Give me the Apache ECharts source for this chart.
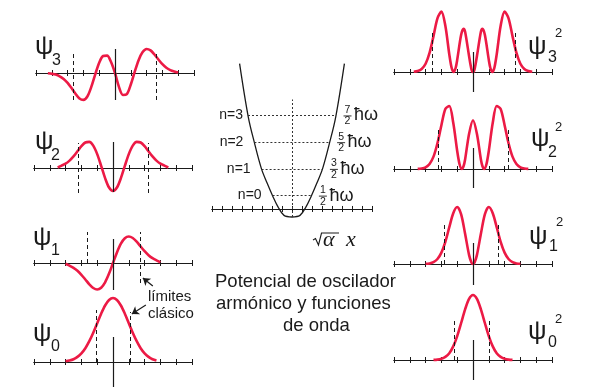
<!DOCTYPE html>
<html>
<head>
<meta charset="utf-8">
<script src="https://cdn.jsdelivr.net/npm/echarts@6/dist/echarts.min.js"></script>
<style>
  html, body { margin: 0; background: #fff; }
  #chart { width: 601px; height: 392px; }
</style>
</head>
<body>
<div id="chart"></div>
<script>
// wave functions psi_n(xi) (vertical unit ~ 1 px)
const psi3X = [-4.25,-4,-3.75,-3.5,-3.25,-3,-2.75,-2.5,-2.25,-2,-1.75,-1.5,-1.25,-1,-0.75,-0.5,-0.25,0,0.25,0.5,0.75,1,1.25,1.5,1.75,2,2.25,2.5,2.75,3,3.25,3.5,3.75,4];
const psi3Y = [-0.3,-0.8,-1.6,-3.3,-6,-9.9,-15.1,-20.7,-25.4,-26.9,-23.5,-13.9,-1.3,10.3,17,17.4,11,0,-13.9,-22,-21.2,-11.5,1.3,13.1,20.9,24,22.6,18.5,13.5,8.8,5.3,2.9,1.5,0.5];
const psi2X = [-3.5,-3.25,-3,-2.75,-2.5,-2.25,-2,-1.75,-1.5,-1.25,-1,-0.75,-0.5,-0.25,0,0.25,0.5,0.75,1,1.25,1.5,1.75,2,2.25,2.5,2.75,3,3.25,3.5];
const psi2Y = [0.5,2.4,4.3,7.4,11.6,16.7,21.8,25.5,26.1,22.4,13.9,2.2,-10.1,-19.5,-23,-19.5,-10.1,2.2,13.9,22.4,26.1,25.5,21.8,16.7,11.6,7.4,4.3,2.4,0.5];
const psi1X = [-3,-2.75,-2.5,-2.25,-2,-1.75,-1.5,-1.25,-1,-0.75,-0.5,-0.25,0,0.25,0.5,0.75,1,1.25,1.5,1.75,2,2.25,2.5,2.75,3];
const psi1Y = [-0.8,-2.7,-4.8,-7.8,-11.8,-16.5,-21.3,-25,-26.5,-24.7,-19.3,-10.6,0,10.6,19.3,24.7,26.5,25,21.3,16.5,11.8,7.8,4.8,2.7,0.8];
const psi0X = [-3,-2.75,-2.5,-2.25,-2,-1.75,-1.5,-1.25,-1,-0.75,-0.5,-0.25,0,0.25,0.5,0.75,1,1.25,1.5,1.75,2,2.25,2.5,2.75];
const psi0Y = [0.7,1.5,2.8,5.1,8.7,13.8,20.8,29.3,38.8,48.3,56.5,62,64,62,56.5,48.3,38.8,29.3,20.8,13.8,8.7,5.1,2.8,1.5];

// probability densities psi_n^2
const prob3X = [-3.75,-3.5,-3.25,-3,-2.75,-2.5,-2.25,-2,-1.75,-1.5,-1.35,-1.22,-1.1,-1,-0.75,-0.6,-0.5,-0.25,-0.1,0,0.1,0.25,0.5,0.6,0.75,1,1.1,1.22,1.35,1.5,1.75,2,2.25,2.5,2.75,3,3.25,3.5,3.75];
const prob3Y = [0.2,0.9,3,8.2,19.1,35.9,53.7,60.4,46.2,17.6,4,0,4,12.1,37.2,43.1,40.2,16,2.9,0,2.9,16,40.2,43.1,37.2,12.1,4,0,4,17.6,46.2,60.4,53.7,35.9,19.1,8.2,3,0.9,0.2];
const prob2X = [-3.5,-3.25,-3,-2.75,-2.5,-2.25,-2,-1.75,-1.5,-1.25,-1,-0.85,-0.71,-0.6,-0.5,-0.25,0,0.25,0.5,0.6,0.71,0.85,1,1.25,1.5,1.75,2,2.25,2.5,2.75,3,3.25,3.5];
const prob2Y = [0.1,0.5,1.7,5.1,12.4,25.8,43.8,60,63,46.2,18,4.7,0,2.7,9.5,35.1,48.8,35.1,9.5,2.7,0,4.7,18,46.2,63,60,43.8,25.8,12.4,5.1,1.7,0.5,0.1];
const prob1X = [-3,-2.75,-2.5,-2.25,-2,-1.75,-1.5,-1.25,-1,-0.75,-0.5,-0.25,-0.1,0,0.1,0.25,0.5,0.75,1,1.25,1.5,1.75,2,2.25,2.5,2.75,3];
const prob1Y = [0.2,0.6,1.9,5,11.4,22.2,36.8,50.8,57,49.7,30.2,9.1,1.5,0,1.5,9.1,30.2,49.7,57,50.8,36.8,22.2,11.4,5,1.9,0.6,0.2];
const prob0X = [-2.5,-2.25,-2,-1.75,-1.5,-1.25,-1,-0.75,-0.5,-0.25,0,0.25,0.5,0.75,1,1.25,1.5,1.75,2,2.25,2.5];
const prob0Y = [0.1,0.4,1.2,3.1,6.8,13.6,23.9,37,50.6,61.1,65,61.1,50.6,37,23.9,13.6,6.8,3.1,1.2,0.4,0.1];

// classical turning points (left, right) as drawn, n = 0..3
const limitsPsi = [[-1.07,1.07],[-1.64,1.7],[-2.2,2.26],[-2.66,2.6]];
const limitsProb = [[-1.2,1.0],[-1.8,1.6],[-2.2,2.2],[-2.6,2.7]];

// potential well V(xi) in units of hbar*omega, and the energy levels
const wellX = [-2.62,-2.19,-1.88,-1.53,-1.25,-0.95,-0.7,-0.4,0,0.4,0.7,0.95,1.25,1.53,1.88,2.19,2.62];
const wellE = [5.44,3.46,2.48,1.51,0.98,0.46,0.08,-0.24,-0.3,-0.24,0.08,0.46,0.98,1.51,2.48,3.46,5.44];
const levelE = [0.5,1.5,2.5,3.5];
const levelHalf = [0.97,1.52,1.88,2.2];
const levelNames = ['n=0','n=1','n=2','n=3'];
const levelNum = ['1','3','5','7'];

const RED = '#ec1a45';
const INK = '#1a1a1a';
const SANS = '"Liberation Sans", Arial, Helvetica, sans-serif';
const SERIF = '"Liberation Serif", "Times New Roman", serif';

const zip = (xs, ys) => xs.map((x, i) => [x, ys[i]]);

// panel layout: grid box in px, y range in data units (1 unit = 1 px)
const panels = [
  { x: psi3X, y: psi3Y, lim: limitsPsi[3], left: 36, axisY: 73, min: -30, max: 30, dashL: [-27, 22], dashR: [-27, 22], stem: [-27, 24] },
  { x: psi2X, y: psi2Y, lim: limitsPsi[2], left: 34, axisY: 168, min: -30, max: 30, dashL: [-25, 25], dashR: [-25, 25], stem: [-24, 26] },
  { x: psi1X, y: psi1Y, lim: limitsPsi[1], left: 34, axisY: 263, min: -30, max: 35, dashL: [0, 31], dashR: [-20, 31], stem: [-27, 24] },
  { x: psi0X, y: psi0Y, lim: limitsPsi[0], left: 34, axisY: 362, min: -30, max: 70, dashL: [0, 52], dashR: [0, 50], stem: [-25, 25] },
  { x: prob3X, y: prob3Y, lim: limitsProb[3], left: 394, axisY: 72, min: -25, max: 65, dashL: [0, 40], dashR: [0, 40], stem: [-20, 20] },
  { x: prob2X, y: prob2Y, lim: limitsProb[2], left: 394, axisY: 169, min: -25, max: 68, dashL: [0, 41], dashR: [0, 41], stem: [-19, 21] },
  { x: prob1X, y: prob1Y, lim: limitsProb[1], left: 394, axisY: 264, min: -25, max: 62, dashL: [0, 41], dashR: [0, 41], stem: [-21, 21] },
  { x: prob0X, y: prob0Y, lim: limitsProb[0], left: 394, axisY: 360, min: -25, max: 70, dashL: [0, 40], dashR: [0, 40], stem: [-20, 20] }
];

const grid = [], xAxis = [], yAxis = [], series = [];

function addAxes(i, min, max, interval, ymin, ymax) {
  const base = {
    gridIndex: i, type: 'value', min: min, max: max, interval: interval,
    axisLine: { onZero: true, onZeroAxisIndex: i, lineStyle: { color: INK, width: 1.2 } },
    axisTick: { show: true, length: 3, lineStyle: { color: INK, width: 1 } },
    axisLabel: { show: false }, splitLine: { show: false }
  };
  xAxis.push(Object.assign({ position: 'bottom' }, base));
  xAxis.push(Object.assign({ position: 'top' }, base));
  yAxis.push({ gridIndex: i, type: 'value', min: ymin, max: ymax, show: false, splitLine: { show: false } });
}

panels.forEach((p, i) => {
  grid.push({ left: p.left, width: 158, top: p.axisY - p.max, height: p.max - p.min });
  addAxes(i, -5, 5, 1, p.min, p.max);
  const dash = { type: [4, 3], color: INK, width: 1 };
  const lines = [
    [{ coord: [0, p.stem[0]], lineStyle: { type: 'solid', color: INK, width: 1.2 } }, { coord: [0, p.stem[1]] }],
    [{ coord: [p.lim[0], p.dashL[0]], lineStyle: dash }, { coord: [p.lim[0], p.dashL[1]] }],
    [{ coord: [p.lim[1], p.dashR[0]], lineStyle: dash }, { coord: [p.lim[1], p.dashR[1]] }]
  ];
  if (i === 2) lines.push([{ coord: [2.52, -23], symbol: 'none' }, { coord: [1.89, -15], symbol: 'arrow', symbolSize: 7 }]);
  if (i === 3) lines.push([{ coord: [2.08, 57], symbol: 'none' }, { coord: [1.19, 48], symbol: 'arrow', symbolSize: 7 }]);
  series.push({
    type: 'line', xAxisIndex: 2 * i, yAxisIndex: i, data: zip(p.x, p.y),
    smooth: 0.3, symbol: 'none', clip: false, silent: true, animation: false, z: 3,
    lineStyle: { color: RED, width: 2.6 },
    markLine: {
      silent: true, animation: false, symbol: 'none', label: { show: false },
      lineStyle: { color: INK, width: 1.2, type: 'solid' },
      data: lines
    }
  });
});

// centre panel: the potential well
const C = panels.length;
grid.push({ left: 212, width: 160, top: 62, height: 155 });
addAxes(C, -4, 4, 0.5, -0.3, 5.5);
const levelLines = levelE.map((e, k) => [{ coord: [-levelHalf[k], e] }, { coord: [levelHalf[k], e] }]);
levelLines.push([{ coord: [0, -0.3] }, { coord: [0, 4.1] }]);
series.push({
  type: 'line', xAxisIndex: 2 * C, yAxisIndex: C, data: zip(wellX, wellE),
  smooth: 0.35, symbol: 'none', clip: false, silent: true, animation: false,
  lineStyle: { color: INK, width: 1.3 },
  markLine: {
    silent: true, animation: false, symbol: 'none', label: { show: false },
    lineStyle: { color: '#333', width: 1, type: [2, 2] },
    data: levelLines
  }
});

const chart = echarts.init(document.getElementById('chart'), null, { renderer: 'canvas' });
chart.setOption({ animation: false, grid, xAxis, yAxis, series });

function txt(x, y, text, size, opt) {
  return {
    type: 'text', x: x, y: y, silent: true,
    style: Object.assign({ text: text, fontSize: size, fontFamily: SANS, fill: INK, align: 'left', verticalAlign: 'middle' }, opt || {})
  };
}

const graphic = [];
// psi labels, left column
[[3, 35, 47, 52, 61], [2, 35, 142, 51, 156], [1, 33, 238, 51, 251], [0, 33, 334, 51, 347]].forEach(l => {
  graphic.push(txt(l[1], l[2], 'ψ', 26));
  graphic.push(txt(l[3], l[4], String(l[0]), 16));
});
// psi^2 labels, right column
[[3, 528, 47, 548, 58, 33], [2, 531, 139, 548, 153, 127], [1, 529, 237, 549, 247, 222], [0, 528, 332, 548, 343, 319]].forEach(l => {
  graphic.push(txt(l[1], l[2], 'ψ', 26));
  graphic.push(txt(l[3], l[4], String(l[0]), 16));
  graphic.push(txt(l[3] + 7, l[5], '2', 13));
});

// level labels placed through the well's own scales
levelE.forEach((e, k) => {
  const L = chart.convertToPixel({ gridIndex: C }, [-levelHalf[k], e]);
  const R = chart.convertToPixel({ gridIndex: C }, [levelHalf[k], e]);
  const gap = k === 3 ? 5 : 11;
  graphic.push(txt(L[0] - gap, L[1], levelNames[k], 14, { align: 'right' }));
  const fx = R[0] + 11.5;
  graphic.push(txt(fx, R[1] - 5.5, levelNum[k], 10.5, { align: 'center' }));
  graphic.push(txt(fx, R[1] + 6, '2', 10.5, { align: 'center' }));
  graphic.push({ type: 'line', silent: true, shape: { x1: fx - 4, y1: R[1] + 0.5, x2: fx + 4, y2: R[1] + 0.5 }, style: { stroke: INK, lineWidth: 0.9 } });
  graphic.push(txt(R[0] + 18, R[1], 'ħω', 18));
});

// axis name sqrt(alpha) x
graphic.push({ type: 'polyline', silent: true, shape: { points: [[313, 240], [315.5, 238.5], [318.5, 245], [321.5, 233], [339, 233]] }, style: { stroke: INK, lineWidth: 1.1, fill: null } });
graphic.push(txt(323, 240, 'α', 22, { fontFamily: SERIF, fontStyle: 'italic' }));
graphic.push(txt(346, 240, 'x', 22, { fontFamily: SERIF, fontStyle: 'italic' }));

// annotations
graphic.push(txt(148, 297, 'límites', 15));
graphic.push(txt(148, 314, 'clásico', 15));
graphic.push(txt(215, 282, 'Potencial de oscilador', 18.5));
graphic.push(txt(216, 304, 'armónico y funciones', 18.5));
graphic.push(txt(283, 326, 'de onda', 18.5));

chart.setOption({ graphic: graphic });
</script>
</body>
</html>
